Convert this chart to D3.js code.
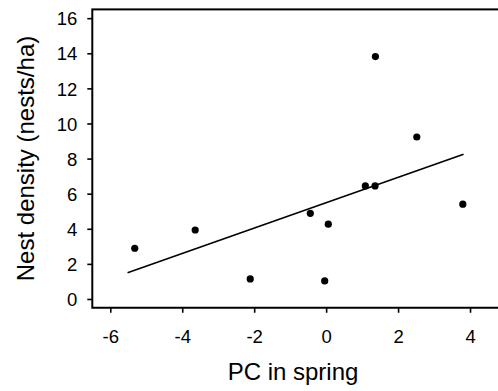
<!DOCTYPE html>
<html>
<head>
<meta charset="utf-8">
<script src="https://cdn.jsdelivr.net/npm/d3@7"></script>
<style>
html,body{margin:0;padding:0;background:#fff;}
svg{display:block;}
text{font-family:"Liberation Sans",Arial,sans-serif;fill:#000;}
</style>
</head>
<body>
<svg id="chart" width="498" height="391"></svg>
<script>
// data
const pcSpring = [-5.32, -3.64, -2.11, -0.44, -0.04, 0.06, 1.09, 1.36, 1.37, 2.52, 3.80];
const nestDensity = [2.89, 3.93, 1.14, 4.88, 1.03, 4.26, 6.44, 6.44, 13.81, 9.23, 5.40];
const fitX = [-5.52, 3.82];
const fitY = [1.50, 8.24];
const xTicks = [-6, -4, -2, 0, 2, 4];
const yTicks = [0, 2, 4, 6, 8, 10, 12, 14, 16];
const xTitle = "PC in spring";
const yTitle = "Nest density (nests/ha)";

const svg = d3.select("#chart");
const mLeft = 92.3, mRight = 506, mTop = 9.4, mBottom = 307.75;

const x = d3.scaleLinear().domain([-6.5, 5]).range([mLeft, mRight]);
const y = d3.scaleLinear().domain([-0.5, 16.5]).range([mBottom, mTop]);

// frame
svg.append("rect")
  .attr("x", mLeft).attr("y", mTop)
  .attr("width", mRight - mLeft).attr("height", mBottom - mTop)
  .attr("fill", "none").attr("stroke", "#000").attr("stroke-width", 2);

// axes
const xAxis = svg.append("g")
  .attr("transform", `translate(0,${mBottom})`)
  .call(d3.axisBottom(x).tickValues(xTicks).tickSize(5).tickPadding(17).tickFormat(d3.format("d")));
const yAxis = svg.append("g")
  .attr("transform", `translate(${mLeft},0)`)
  .call(d3.axisLeft(y).tickValues(yTicks).tickSize(5).tickPadding(10).tickFormat(d3.format("d")));

[xAxis, yAxis].forEach(g => {
  g.select(".domain").remove();
  g.selectAll(".tick line").attr("stroke", "#000").attr("stroke-width", 1.6);
  g.selectAll(".tick text").attr("font-size", 18.5).attr("font-family", "Liberation Sans, Arial, sans-serif").attr("fill", "#000");
});
xAxis.selectAll(".tick text").text(d => String(d));
yAxis.selectAll(".tick text").attr("dy", "0.36em");

// regression line
svg.append("line")
  .attr("x1", x(fitX[0])).attr("y1", y(fitY[0]))
  .attr("x2", x(fitX[1])).attr("y2", y(fitY[1]))
  .attr("stroke", "#000").attr("stroke-width", 1.6);

// points
svg.append("g").selectAll("circle")
  .data(pcSpring.map((v, i) => [v, nestDensity[i]]))
  .join("circle")
  .attr("cx", d => x(d[0])).attr("cy", d => y(d[1]))
  .attr("r", 3.6).attr("fill", "#000");

// titles
svg.append("text")
  .attr("x", 293).attr("y", 379.5)
  .attr("text-anchor", "middle").attr("font-size", 24)
  .text(xTitle);
svg.append("text")
  .attr("transform", "translate(34.3,158.5) rotate(-90)")
  .attr("text-anchor", "middle").attr("font-size", 24)
  .text(yTitle);
</script>
</body>
</html>
